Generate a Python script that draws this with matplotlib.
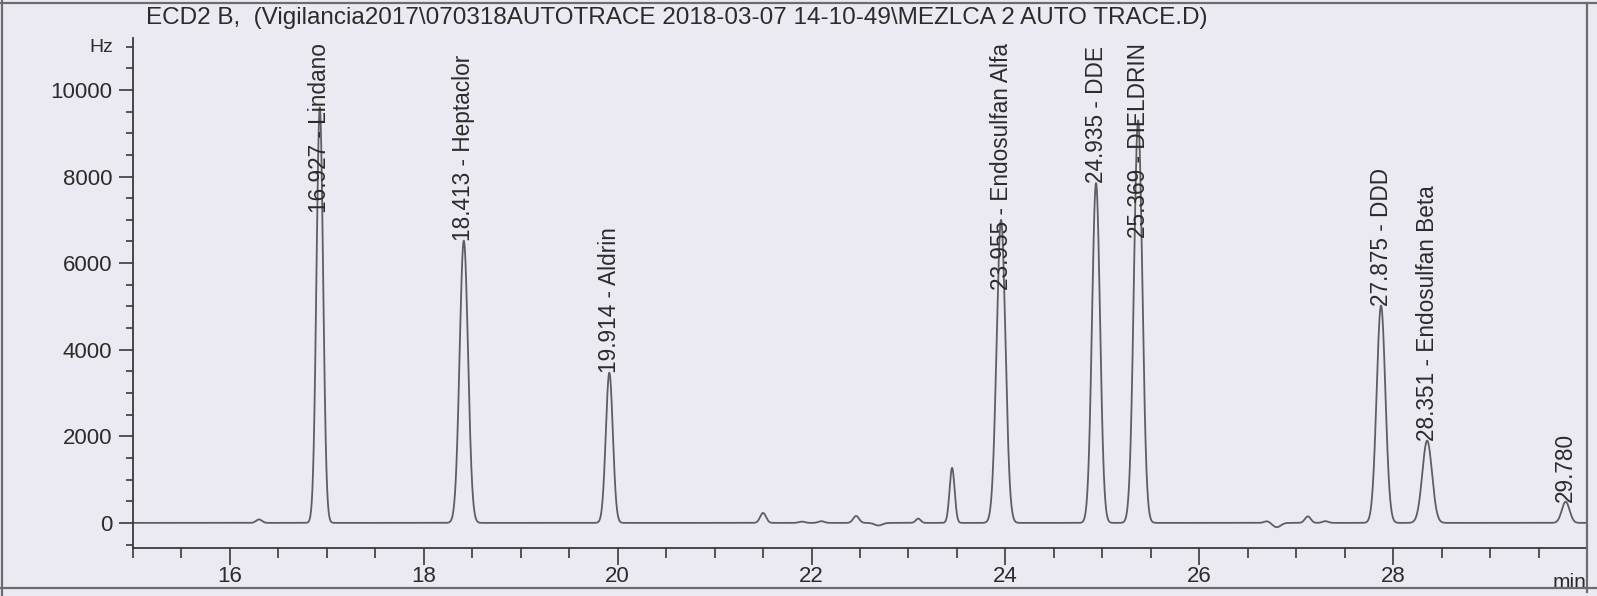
import numpy as np
import matplotlib
matplotlib.use("Agg")
import matplotlib.pyplot as plt
from matplotlib.lines import Line2D
from matplotlib.ticker import MultipleLocator, FixedLocator

# ---------------- data ----------------
title = "ECD2 B,  (Vigilancia2017\\070318AUTOTRACE 2018-03-07 14-10-49\\MEZLCA 2 AUTO TRACE.D)"

# peak table: retention time (min), height (Hz), width sigma (min)
peak_rt = [16.30, 16.927, 18.413, 19.914, 21.50, 21.90, 22.10, 22.46, 22.69,
           23.10, 23.45, 23.955, 24.935, 25.369, 26.70, 26.80, 27.12, 27.30,
           27.875, 28.351, 29.780]
peak_height = [80, 9600, 6520, 3470, 230, 30, 40, 160, -60,
               100, 1270, 7000, 7850, 9300, 40, -100, 150, 40,
               5020, 1900, 490]
peak_sigma = [0.03, 0.034, 0.043, 0.036, 0.03, 0.03, 0.03, 0.03, 0.04,
              0.025, 0.026, 0.045, 0.041, 0.043, 0.03, 0.04, 0.03, 0.03,
              0.045, 0.05, 0.04]

# labelled peaks
label_rt = [16.927, 18.413, 19.914, 23.955, 24.935, 25.369, 27.875, 28.351, 29.780]
label_text = ["16.927 - Lindano", "18.413 - Heptaclor", "19.914 - Aldrin",
              "23.955 - Endosulfan Alfa", "24.935 - DDE", "25.369 - DIELDRIN",
              "27.875 - DDD", "28.351 - Endosulfan Beta", "29.780"]

x_major = [16, 18, 20, 22, 24, 26, 28]
y_major = [0, 2000, 4000, 6000, 8000, 10000]

# ---------------- styling ----------------
BG = "#ebeaf2"
INK = "#2b2b2b"
TRACE = "#5e5e62"
FONT = "Liberation Sans"
plt.rcParams["font.family"] = [FONT, "DejaVu Sans"]

W, H = 1597, 596
fig = plt.figure(figsize=(W / 100, H / 100), dpi=100, facecolor=BG)
ax = fig.add_axes([133 / W, 1 - 548 / H, (1587 - 133) / W, (548 - 38) / H])
ax.set_facecolor(BG)

# trace built from the peak table
t = np.linspace(15.0, 30.0, 8000)
signal = np.zeros_like(t)
for rt, h, s in zip(peak_rt, peak_height, peak_sigma):
    signal += h * np.exp(-0.5 * ((t - rt) / s) ** 2)
ax.plot(t, signal, color=TRACE, lw=1.3, zorder=2)

ax.set_xlim(15.0, 30.0)
ax.set_ylim(-580, 11200)

for side in ["top", "right"]:
    ax.spines[side].set_visible(False)
for side in ["left", "bottom"]:
    ax.spines[side].set_color("#3a3a3a")
    ax.spines[side].set_linewidth(1.3)

ax.xaxis.set_major_locator(FixedLocator(x_major))
ax.xaxis.set_minor_locator(MultipleLocator(0.5))
ax.yaxis.set_major_locator(FixedLocator(y_major))
ax.yaxis.set_minor_locator(MultipleLocator(500))
ax.tick_params(axis="x", which="major", length=12, width=1.2, color="#3a3a3a",
               labelsize=16, labelcolor=INK, pad=1)
ax.tick_params(axis="x", which="minor", length=7, width=1.2, color="#3a3a3a")
ax.tick_params(axis="y", which="major", length=10, width=1.2, color="#3a3a3a",
               labelsize=16, labelcolor=INK, pad=5)
ax.tick_params(axis="y", which="minor", length=5, width=1.2, color="#3a3a3a")
ax.set_xticklabels([str(v) for v in x_major])
ax.set_yticklabels([str(v) for v in y_major])

# axis unit labels
ax.text(113 / W, 1 - 48 / H, "Hz", transform=fig.transFigure, ha="right",
        va="center", fontsize=14, color=INK)
ax.text(1586 / W, 1 - 582 / H, "min", transform=fig.transFigure, ha="right",
        va="center", fontsize=15, color=INK)

# title
fig.text(146 / W, 1 - 18 / H, title, ha="left", va="center", fontsize=17.5, color=INK)

# peak labels (rotated, starting at apex, pushed down if they would leave the plot)
texts = []
for rt, txt in zip(label_rt, label_text):
    h = peak_height[peak_rt.index(rt)]
    tx = ax.text(rt, h, txt, rotation=90, ha="center", va="bottom",
                 fontsize=16.3, color=INK, zorder=3)
    texts.append(tx)

fig.canvas.draw()
renderer = fig.canvas.get_renderer()
limit_px = H - 43  # display y of the highest allowed label end
inv = ax.transData.inverted()
for tx in texts:
    bb = tx.get_window_extent(renderer)
    if bb.y1 > limit_px:
        x0, y0 = tx.get_position()
        disp = ax.transData.transform((x0, y0))
        new = inv.transform((disp[0], disp[1] - (bb.y1 - limit_px)))
        tx.set_position((x0, new[1]))

# scan frame lines
frame = dict(color="#6c6c70", lw=1.6, transform=fig.transFigure)
fig.add_artist(Line2D([0, 1], [1 - 3 / H, 1 - 3 / H], **frame))
fig.add_artist(Line2D([0, 1], [1 - 588 / H, 1 - 588 / H], **frame))
fig.add_artist(Line2D([2 / W, 2 / W], [0, 1], **frame))
fig.add_artist(Line2D([1587 / W, 1587 / W], [1 - 592 / H, 1 - 3 / H], **frame))

fig.savefig("out.png", dpi=100, facecolor=BG)
